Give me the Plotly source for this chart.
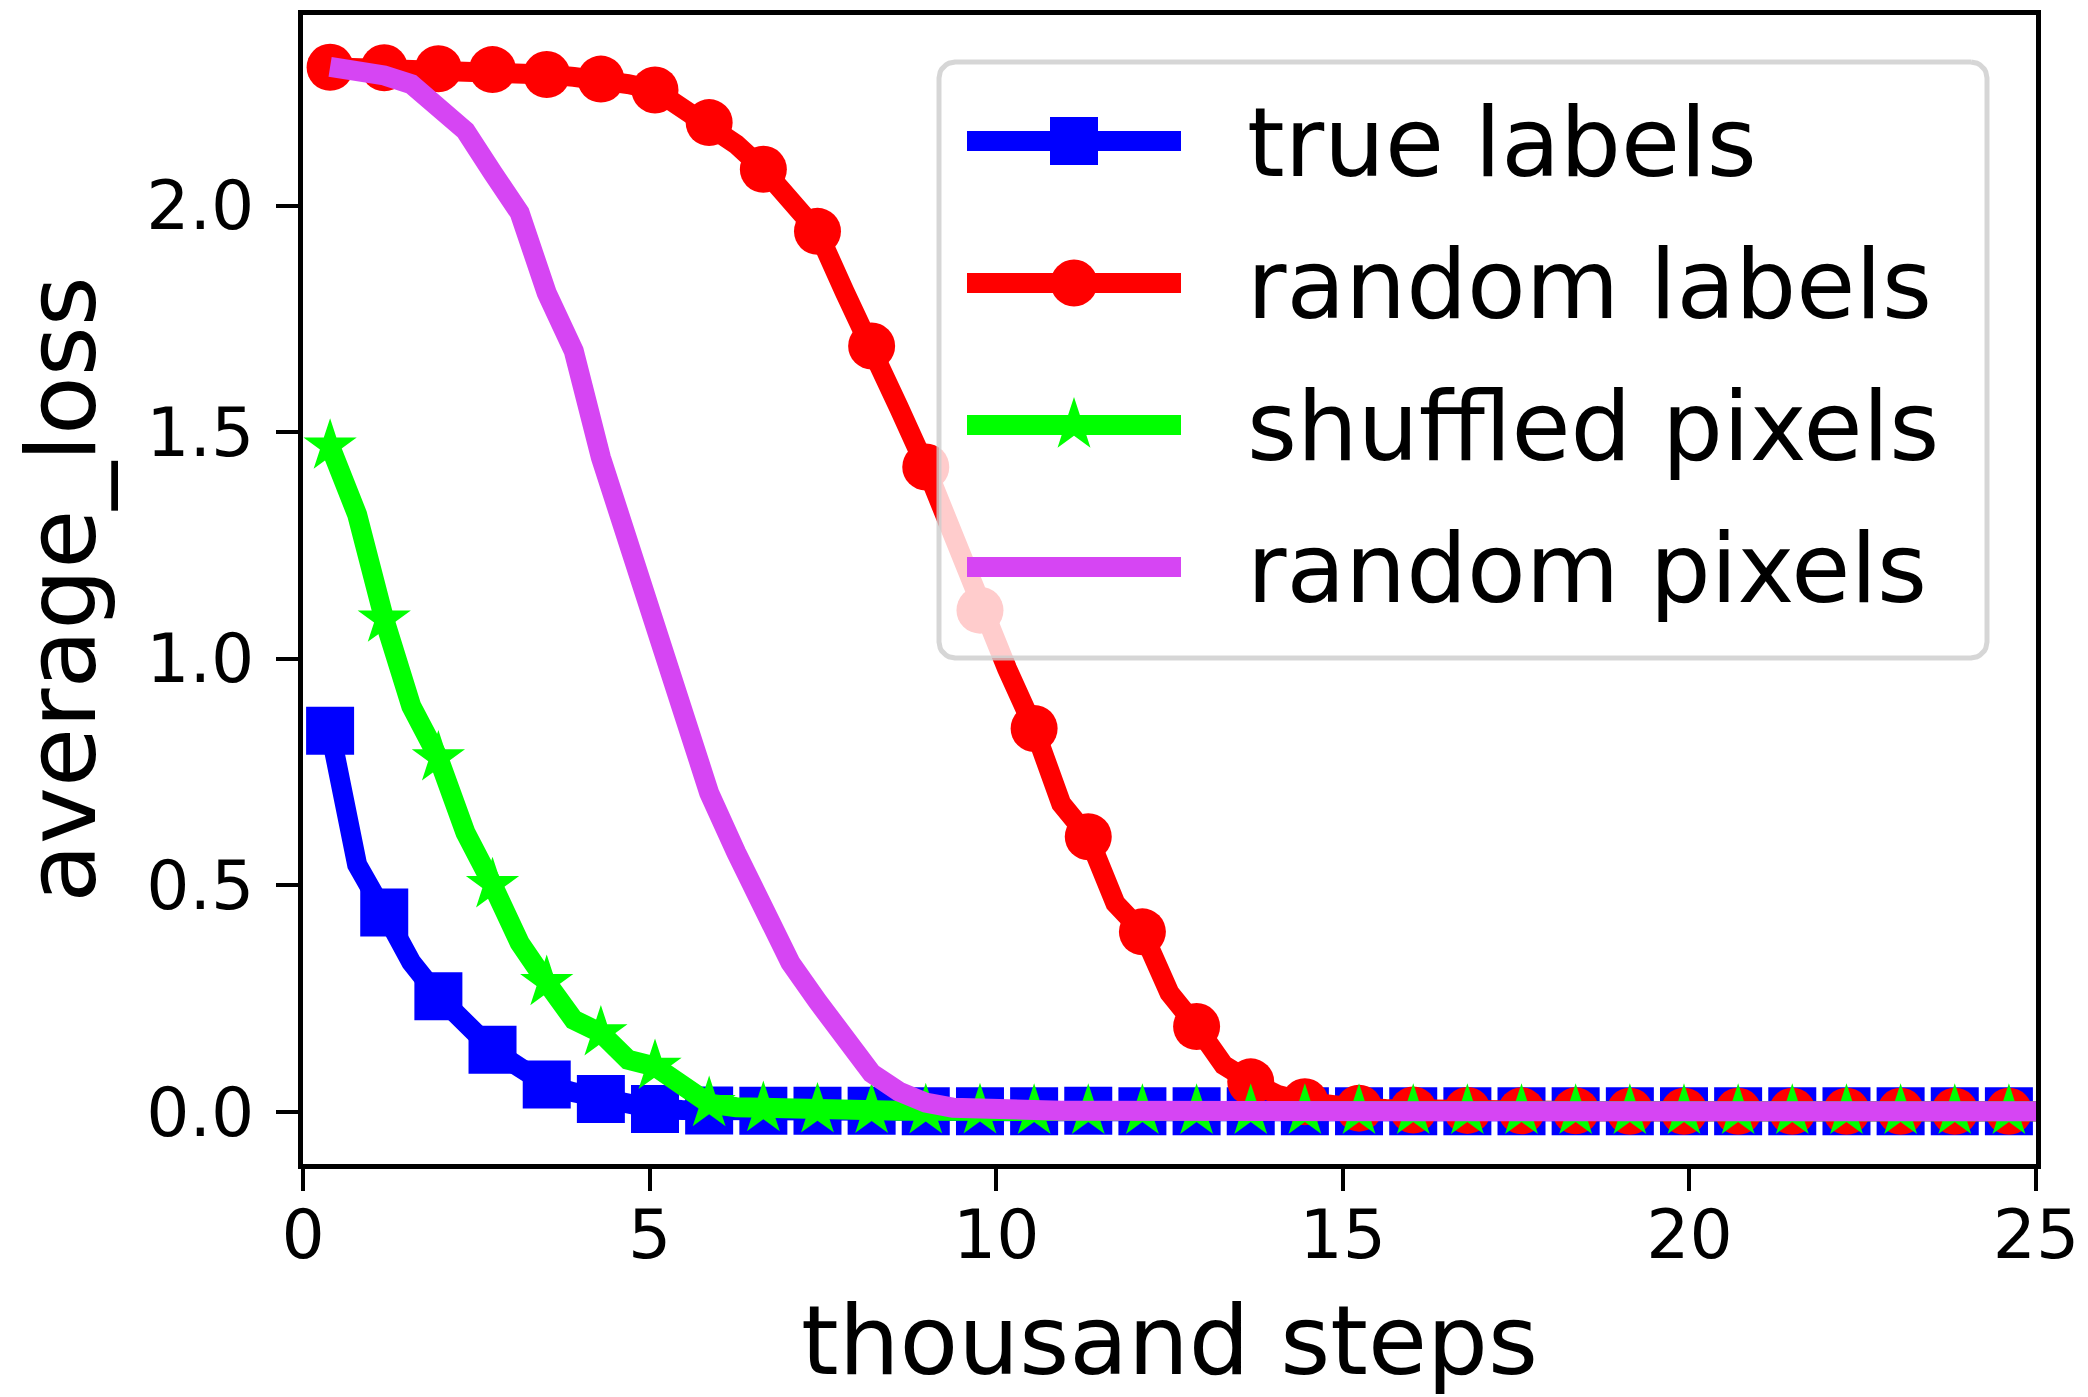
import math
import plotly.graph_objects as go

# ---------------- data ----------------
steps = [0.391, 0.781, 1.172, 1.562, 1.953, 2.344, 2.734, 3.125,
         3.516, 3.906, 4.297, 4.688, 5.078, 5.469, 5.859, 6.25,
         6.641, 7.031, 7.422, 7.812, 8.203, 8.594, 8.984, 9.375,
         9.766, 10.156, 10.547, 10.938, 11.328, 11.719, 12.109, 12.5,
         12.891, 13.281, 13.672, 14.062, 14.453, 14.844, 15.234, 15.625,
         16.016, 16.406, 16.797, 17.188, 17.578, 17.969, 18.359, 18.75,
         19.141, 19.531, 19.922, 20.312, 20.703, 21.094, 21.484, 21.875,
         22.266, 22.656, 23.047, 23.438, 23.828, 24.219, 24.609, 25.0]

true_labels = [0.841, 0.545, 0.440, 0.330, 0.255, 0.195, 0.137, 0.098,
               0.060, 0.043, 0.028, 0.016, 0.006, 0.004, 0.003, 0.002,
               0.002, 0.002, 0.002, 0.001, 0.002, 0.001, 0.001, 0.002,
               0.001, 0.001, 0.001, 0.001, 0.002, 0.001, 0.001, 0.001,
               0.001, 0.001, 0.001, 0.001, 0.001, 0.001, 0.001, 0.001,
               0.001, 0.001, 0.001, 0.001, 0.001, 0.001, 0.001, 0.001,
               0.001, 0.001, 0.001, 0.001, 0.001, 0.001, 0.001, 0.001,
               0.001, 0.001, 0.001, 0.001, 0.001, 0.001, 0.001, 0.001]

random_labels = [2.305, 2.304, 2.304, 2.303, 2.302, 2.301, 2.300, 2.296,
                 2.289, 2.284, 2.279, 2.268, 2.255, 2.215, 2.183, 2.135,
                 2.080, 2.010, 1.943, 1.810, 1.690, 1.555, 1.423, 1.272,
                 1.107, 0.978, 0.846, 0.680, 0.607, 0.460, 0.397, 0.262,
                 0.188, 0.103, 0.066, 0.037, 0.022, 0.011, 0.008, 0.006,
                 0.004, 0.003, 0.003, 0.002, 0.002, 0.002, 0.002, 0.001,
                 0.001, 0.001, 0.001, 0.001, 0.001, 0.001, 0.001, 0.001,
                 0.001, 0.001, 0.001, 0.001, 0.001, 0.001, 0.001, 0.001]

shuffled_pixels = [1.469, 1.318, 1.087, 0.895, 0.781, 0.616, 0.501, 0.373,
                   0.285, 0.203, 0.174, 0.115, 0.100, 0.064, 0.018, 0.010,
                   0.007, 0.005, 0.004, 0.003, 0.003, 0.002, 0.002, 0.002,
                   0.002, 0.002, 0.001, 0.001, 0.001, 0.001, 0.001, 0.001,
                   0.001, 0.001, 0.001, 0.001, 0.001, 0.001, 0.001, 0.001,
                   0.001, 0.001, 0.001, 0.001, 0.001, 0.001, 0.001, 0.001,
                   0.001, 0.001, 0.001, 0.001, 0.001, 0.001, 0.001, 0.001,
                   0.001, 0.001, 0.001, 0.001, 0.001, 0.001, 0.001, 0.001]

random_pixels = [2.306, 2.300, 2.287, 2.268, 2.220, 2.165, 2.073, 1.984,
                 1.807, 1.679, 1.444, 1.256, 1.094, 0.873, 0.704, 0.572,
                 0.440, 0.329, 0.244, 0.166, 0.085, 0.045, 0.020, 0.009,
                 0.005, 0.003, 0.002, 0.002, 0.002, 0.001, 0.001, 0.001,
                 0.001, 0.001, 0.001, 0.001, 0.001, 0.001, 0.001, 0.001,
                 0.001, 0.001, 0.001, 0.001, 0.001, 0.001, 0.001, 0.001,
                 0.001, 0.001, 0.001, 0.001, 0.001, 0.001, 0.001, 0.001,
                 0.001, 0.001, 0.001, 0.001, 0.001, 0.001, 0.001, 0.001]

series_names = ["true labels", "random labels", "shuffled pixels", "random pixels"]
x_ticks = [0, 5, 10, 15, 20, 25]
y_ticks = [0.0, 0.5, 1.0, 1.5, 2.0]

# ---------------- style ----------------
FONT = "DejaVu Sans"
W, H = 2088, 1397
ML, MR, MT, MB = 303, 52, 15, 233
PW, PH = W - ML - MR, H - MT - MB
LW = 20

styles = [
    dict(color="#0000ff", symbol="square", size=48),
    dict(color="#ff0000", symbol="circle", size=47),
    dict(color="#00ff00", symbol="star", size=40),
    dict(color="#d645f3", symbol=None, size=0),
]
all_series = [true_labels, random_labels, shuffled_pixels, random_pixels]

fig = go.Figure()

for vals, st in zip(all_series, styles):
    if st["symbol"]:
        sizes = [st["size"] if i % 2 == 0 else 0 for i in range(len(steps))]
        fig.add_trace(go.Scatter(
            x=steps, y=vals, mode="lines+markers",
            line=dict(color=st["color"], width=LW),
            marker=dict(symbol=st["symbol"], size=sizes, color=st["color"],
                        opacity=1, line=dict(width=0)),
            showlegend=False, hoverinfo="skip"))
    else:
        fig.add_trace(go.Scatter(
            x=steps, y=vals, mode="lines",
            line=dict(color=st["color"], width=LW),
            showlegend=False, hoverinfo="skip"))

# ---------------- manual legend (overlay axes in 0..1 plot fractions) ----------------
def fx(px):
    return (px - ML) / PW

def fy(py):
    return (H - MB - py) / PH

bl, br, bt, bb, rad = 939, 1987, 62, 658, 16
pts = []
corners = [(br - rad, bt + rad, -90, 0), (br - rad, bb - rad, 0, 90),
           (bl + rad, bb - rad, 90, 180), (bl + rad, bt + rad, 180, 270)]
for cx, cy, a0, a1 in corners:
    for j in range(9):
        a = math.radians(a0 + (a1 - a0) * j / 8)
        pts.append((cx + rad * math.cos(a), cy + rad * math.sin(a)))
pts.append(pts[0])
fig.add_trace(go.Scatter(
    x=[fx(p[0]) for p in pts], y=[fy(p[1]) for p in pts],
    mode="lines", fill="toself", fillcolor="rgba(255,255,255,0.8)",
    line=dict(color="rgba(204,204,204,0.8)", width=5),
    xaxis="x2", yaxis="y2", showlegend=False, hoverinfo="skip"))

row_y = [141, 283, 425, 567]
lx0, lx1 = 967, 1181
lxm = (lx0 + lx1) / 2
for name, st, ry in zip(series_names, styles, row_y):
    fig.add_trace(go.Scatter(
        x=[fx(lx0), fx(lxm), fx(lx1)], y=[fy(ry)] * 3,
        mode="lines+markers" if st["symbol"] else "lines",
        line=dict(color=st["color"], width=LW),
        marker=dict(symbol=st["symbol"] or "circle", opacity=1,
                    size=[0, st["size"], 0], color=st["color"], line=dict(width=0)),
        xaxis="x2", yaxis="y2", showlegend=False, hoverinfo="skip"))
    fig.add_annotation(
        x=fx(1245), y=fy(ry + 2), xref="x2", yref="y2", text=name,
        showarrow=False, xanchor="left", yanchor="middle",
        font=dict(family=FONT, size=96, color="black"))

axis_common = dict(
    showline=True, linecolor="black", linewidth=5, mirror=True,
    ticks="outside", ticklen=22, tickwidth=4, tickcolor="black",
    showgrid=False, zeroline=False, automargin=True,
    tickfont=dict(family=FONT, size=68, color="black"),
)

fig.update_layout(
    width=W, height=H,
    margin=dict(l=ML, r=MR, t=MT, b=MB, autoexpand=False),
    paper_bgcolor="white", plot_bgcolor="white",
    showlegend=False,
    xaxis=dict(range=[0, 25], tickvals=x_ticks,
               title=dict(text="thousand steps", standoff=41,
                          font=dict(family=FONT, size=96, color="black")),
               ticklabelstandoff=-15,
               **axis_common),
    yaxis=dict(range=[-0.1153, 2.4205], tickvals=y_ticks, tickformat=".1f",
               title=dict(text="average_loss", standoff=20,
                          font=dict(family=FONT, size=96, color="black")),
               ticklabelstandoff=8,
               **axis_common),
    xaxis2=dict(overlaying="x", range=[0, 1], visible=False, fixedrange=True),
    yaxis2=dict(overlaying="y", range=[0, 1], visible=False, fixedrange=True),
)

fig.write_html("out.html")
